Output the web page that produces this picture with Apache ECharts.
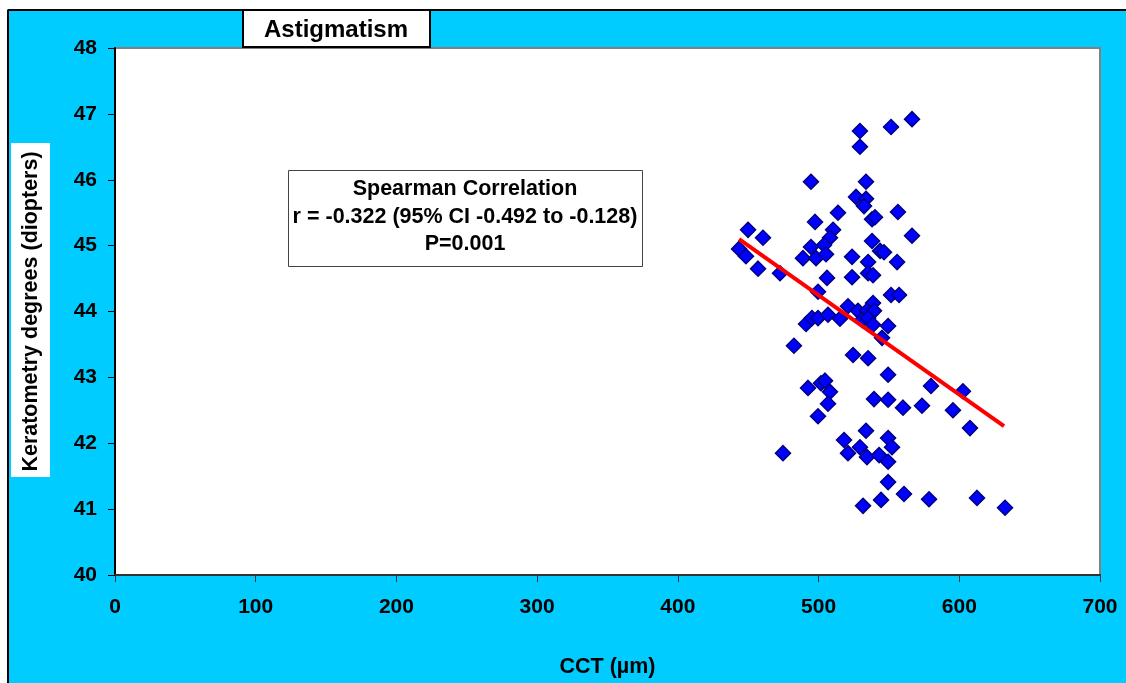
<!DOCTYPE html>
<html>
<head>
<meta charset="utf-8">
<script src="https://cdn.jsdelivr.net/npm/echarts@6/dist/echarts.min.js"></script>
<style>html,body{margin:0;padding:0;background:#fff;}#c{width:1126px;height:683px;}</style>
</head>
<body>
<div id="c"></div>
<script>
// CCT (µm) values
const cct = [566.4,551.5,529.4,529.4,494.6,533.7,526.6,533.7,532.3,513.8,556.4,538.0,540.1,497.5,566.4,510.3,508.1,449.9,460.5,538.0,494.6,503.9,443.5,448.4,488.9,498.2,505.3,523.8,543.7,546.5,535.2,555.8,457.0,472.6,506.0,523.8,535.2,538.7,499.6,551.5,557.2,520.9,538.7,528.0,534.4,539.4,530.9,535.2,538.7,491.1,495.3,499.6,506.7,515.2,549.4,545.1,482.5,524.5,535.2,549.4,492.5,501.7,504.6,508.1,506.7,499.6,539.4,549.4,560.0,573.5,579.9,602.6,595.5,607.6,533.7,518.1,520.9,529.4,534.4,543.0,549.4,552.2,549.4,474.7,549.4,560.7,544.4,531.6,578.5,612.6,632.5];
// Keratometry (diopters) values
const kerat = [46.92,46.80,46.74,46.50,45.97,45.97,45.74,45.71,45.60,45.50,45.51,45.40,45.43,45.36,45.15,45.24,45.12,45.24,45.12,45.07,44.98,45.01,44.95,44.84,44.81,44.81,44.87,44.83,44.92,44.90,44.75,44.75,44.65,44.58,44.51,44.52,44.58,44.55,44.30,44.25,44.25,44.08,44.13,44.01,44.01,44.01,43.87,43.90,43.80,43.81,43.90,43.90,43.95,43.89,43.78,43.60,43.48,43.34,43.29,43.04,42.84,42.91,42.95,42.78,42.60,42.41,42.67,42.66,42.54,42.57,42.87,42.79,42.50,42.23,42.19,42.05,41.85,41.94,41.79,41.82,42.08,41.94,41.72,41.85,41.41,41.23,41.14,41.05,41.15,41.17,41.02];
// regression line endpoints
const trendX = [443.5, 631.8];
const trendY = [45.10, 42.26];
// text
const chartTitle = 'Astigmatism';
const statLines = ['Spearman Correlation', 'r = -0.322 (95% CI -0.492 to -0.128)', 'P=0.001'];
const xName = 'CCT (µm)';
const yName = 'Keratometry degrees (diopters)';

const FONT = '"Liberation Sans", Arial, sans-serif';
const chart = echarts.init(document.getElementById('c'));
const points = cct.map((x, i) => [x, kerat[i]]);
const trend = trendX.map((x, i) => [x, trendY[i]]);

chart.setOption({
  animation: false,
  backgroundColor: '#00CCFF',
  grid: {left: 115, top: 48, width: 985, height: 527, show: true, backgroundColor: '#ffffff', borderColor: '#808080', borderWidth: 2},
  xAxis: {
    type: 'value', min: 0, max: 700, interval: 100,
    name: xName, nameLocation: 'middle', nameGap: 81,
    nameTextStyle: {fontFamily: FONT, fontWeight: 'bold', fontSize: 21.5, color: '#000'},
    axisLine: {show: true, onZero: false, lineStyle: {color: '#333', width: 2}},
    axisTick: {show: true, length: 7, lineStyle: {color: '#333', width: 1}},
    axisLabel: {fontFamily: FONT, fontWeight: 'bold', fontSize: 21, color: '#000', margin: 22},
    splitLine: {show: false}
  },
  yAxis: {
    type: 'value', min: 40, max: 48, interval: 1,
    name: yName, nameLocation: 'middle', nameGap: 73, nameRotate: 90,
    nameTextStyle: {fontFamily: FONT, fontWeight: 'bold', fontSize: 21.5, color: '#000'},
    axisLine: {show: true, onZero: false, lineStyle: {color: '#000', width: 2}},
    axisTick: {show: true, length: 7, lineStyle: {color: '#000', width: 1}},
    axisLabel: {fontFamily: FONT, fontWeight: 'bold', fontSize: 21, color: '#000', margin: 18},
    splitLine: {show: false}
  },
  series: [
    {
      type: 'scatter', data: points, symbol: 'diamond', symbolSize: 15, z: 3,
      itemStyle: {color: '#0000FF', borderColor: '#000080', borderWidth: 1.5, opacity: 1}
    },
    {
      type: 'line', data: trend, symbol: 'none', z: 4,
      lineStyle: {color: '#FF0000', width: 4}
    }
  ],
  graphic: [
    {type: 'rect', z: 0, shape: {x: 0, y: 0, width: 1126, height: 9}, style: {fill: '#ffffff'}},
    {type: 'rect', z: 0, shape: {x: 0, y: 0, width: 7, height: 683}, style: {fill: '#ffffff'}},
    {type: 'line', z: 0, shape: {x1: 8, y1: 10, x2: 1126, y2: 10}, style: {stroke: '#000', lineWidth: 2}},
    {type: 'line', z: 0, shape: {x1: 8, y1: 10, x2: 8, y2: 683}, style: {stroke: '#000', lineWidth: 2}},
    {type: 'rect', z: 0, shape: {x: 11, y: 143, width: 39, height: 334}, style: {fill: '#ffffff'}},
    {type: 'rect', z: 10, shape: {x: 243, y: 10, width: 187, height: 37}, style: {fill: '#ffffff', stroke: '#000', lineWidth: 2}},
    {type: 'text', z: 11, x: 336, y: 30, style: {text: chartTitle, fontFamily: FONT, fontWeight: 'bold', fontSize: 24, fill: '#000', align: 'center', verticalAlign: 'middle'}},
    {type: 'rect', z: 10, shape: {x: 288.5, y: 170.5, width: 354, height: 96}, style: {fill: '#ffffff', stroke: '#444', lineWidth: 1}},
    {type: 'text', z: 11, x: 465, y: 189, style: {text: statLines[0], fontFamily: FONT, fontWeight: 'bold', fontSize: 21.5, fill: '#000', align: 'center', verticalAlign: 'middle'}},
    {type: 'text', z: 11, x: 465, y: 217, style: {text: statLines[1], fontFamily: FONT, fontWeight: 'bold', fontSize: 21.5, fill: '#000', align: 'center', verticalAlign: 'middle'}},
    {type: 'text', z: 11, x: 465, y: 244, style: {text: statLines[2], fontFamily: FONT, fontWeight: 'bold', fontSize: 21.5, fill: '#000', align: 'center', verticalAlign: 'middle'}}
  ]
});
</script>
</body>
</html>
